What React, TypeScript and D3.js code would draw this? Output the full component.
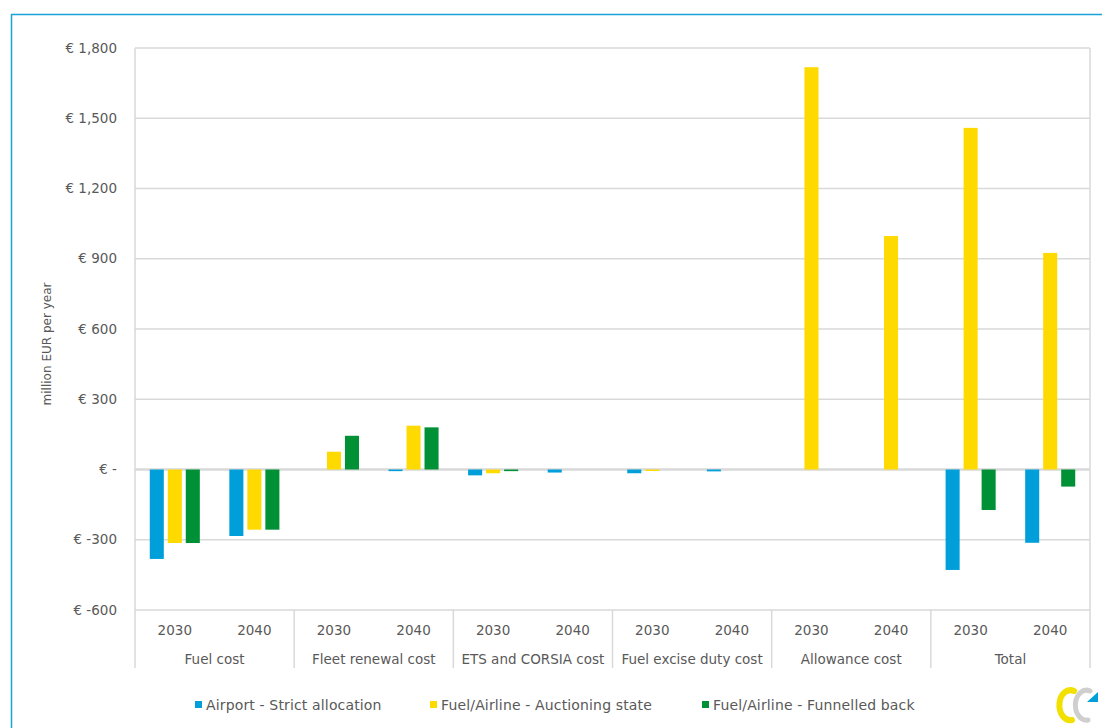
import { useMemo } from 'react';
import * as d3 from 'd3';

const CATEGORIES = ['Fuel cost', 'Fleet renewal cost', 'ETS and CORSIA cost', 'Fuel excise duty cost', 'Allowance cost', 'Total'];
const YEARS = ['2030', '2040'];
const SERIES = ['Airport - Strict allocation', 'Fuel/Airline - Auctioning state', 'Fuel/Airline - Funnelled back'];
const COLORS = ['#009fda', '#ffda00', '#009036'];

// values per category, per year, per series (million EUR per year)
const AIRPORT_STRICT = [[-382, -284], [0, -7], [-25, -13], [-16, -8], [0, 0], [-429, -313]];
const AUCTIONING_STATE = [[-314, -257], [76, 187], [-16, 0], [-6, 0], [1718, 997], [1459, 925]];
const FUNNELLED_BACK = [[-314, -257], [144, 180], [-7, 0], [0, 0], [0, 0], [-173, -73]];
const Y_TICKS = [-600, -300, 0, 300, 600, 900, 1200, 1500, 1800];

const W = 1102;
const H = 728;
const M = { left: 135, right: 1090, top: 48, bottom: 610, axisBottom: 668 };
const FONT = 'Verdana, "DejaVu Sans", sans-serif';
const TEXT = '#595959';
const GRID = '#d9d9d9';

const comma = d3.format(',');
const fmtTick = (v: number) => (v === 0 ? '€ -' : v < 0 ? `€ -${comma(-v)}` : `€ ${comma(v)}`);

export default function App() {
  const seriesValues = [AIRPORT_STRICT, AUCTIONING_STATE, FUNNELLED_BACK];

  const { x0, x1, x2, y } = useMemo(() => {
    const x0 = d3.scaleBand<string>().domain(CATEGORIES).range([M.left, M.right]);
    const x1 = d3.scaleBand<string>().domain(YEARS).range([0, x0.bandwidth()]);
    const x2 = d3.scaleBand<string>().domain(SERIES).range([0, x1.bandwidth()]).paddingInner(0.22).paddingOuter(0.82);
    const y = d3.scaleLinear().domain([-600, 1800]).range([M.bottom, M.top]);
    return { x0, x1, x2, y };
  }, []);

  const bars: { key: string; x: number; y: number; w: number; h: number; color: string }[] = [];
  CATEGORIES.forEach((cat, ci) => {
    YEARS.forEach((yr, yi) => {
      SERIES.forEach((s, si) => {
        const v = seriesValues[si][ci][yi];
        if (v === 0) return;
        const px = x0(cat)! + x1(yr)! + x2(s)!;
        const y0 = y(0);
        const yv = y(v);
        bars.push({ key: `${cat}-${yr}-${s}`, x: px, y: Math.min(y0, yv), w: x2.bandwidth(), h: Math.max(1.5, Math.abs(yv - y0)), color: COLORS[si] });
      });
    });
  });

  const legendX = [195, 430, 702];

  return (
    <svg width={W} height={H} style={{ position: 'absolute', left: 0, top: 0, background: '#fff' }} fontFamily={FONT}>
      {/* frame */}
      <line x1={11} x2={W} y1={14.5} y2={14.5} stroke="#1ba1d9" strokeWidth={1.5} />
      <line x1={11.5} x2={11.5} y1={14} y2={H} stroke="#1ba1d9" strokeWidth={1.5} />

      {/* grid */}
      {Y_TICKS.map(t => (
        <g key={t}>
          <line x1={M.left} x2={M.right} y1={y(t)} y2={y(t)} stroke={GRID} strokeWidth={t === 0 ? 2.5 : 1.5} />
          <text x={117} y={y(t)} dy="0.35em" textAnchor="end" fontSize={13.5} fill={TEXT}>{fmtTick(t)}</text>
        </g>
      ))}
      <line x1={M.left} x2={M.left} y1={M.top} y2={M.axisBottom} stroke={GRID} strokeWidth={1.5} />
      <line x1={M.right} x2={M.right} y1={M.top} y2={M.axisBottom} stroke={GRID} strokeWidth={1.5} />
      {CATEGORIES.slice(1).map(c => (
        <line key={c} x1={x0(c)!} x2={x0(c)!} y1={M.bottom} y2={M.axisBottom} stroke={GRID} strokeWidth={1.5} />
      ))}

      {/* bars */}
      {bars.map(b => (
        <rect key={b.key} x={b.x} y={b.y} width={b.w} height={b.h} fill={b.color} />
      ))}

      {/* category axis labels */}
      {CATEGORIES.map(c => (
        <g key={c}>
          {YEARS.map(yr => (
            <text key={yr} x={x0(c)! + x1(yr)! + x1.bandwidth() / 2} y={630} dy="0.35em" textAnchor="middle" fontSize={13.5} fill={TEXT}>{yr}</text>
          ))}
          <text x={x0(c)! + x0.bandwidth() / 2} y={659} dy="0.35em" textAnchor="middle" fontSize={13.5} fill={TEXT}>{c}</text>
        </g>
      ))}

      {/* y axis title */}
      <text transform="translate(47,344) rotate(-90)" textAnchor="middle" dy="0.35em" fontSize={12} fill={TEXT}>million EUR per year</text>

      {/* legend */}
      {SERIES.map((s, i) => (
        <g key={s}>
          <rect x={legendX[i]} y={701} width={7} height={7} fill={COLORS[i]} />
          <text x={legendX[i] + 11} y={705} dy="0.35em" fontSize={14} letterSpacing={0.15} fill={TEXT}>{s}</text>
        </g>
      ))}

      {/* logo */}
      <g fill="none" strokeLinecap="round">
        <path d="M1074,691 A11,15 0 1 0 1072,720" stroke="#f2e000" strokeWidth={6} />
        <path d="M1090,691 A11,15 0 1 0 1088,720" stroke="#cfcfcf" strokeWidth={5} />
      </g>
      <path d="M1087,702 L1098,702 L1098,692 Z" fill="#009fda" />
    </svg>
  );
}
